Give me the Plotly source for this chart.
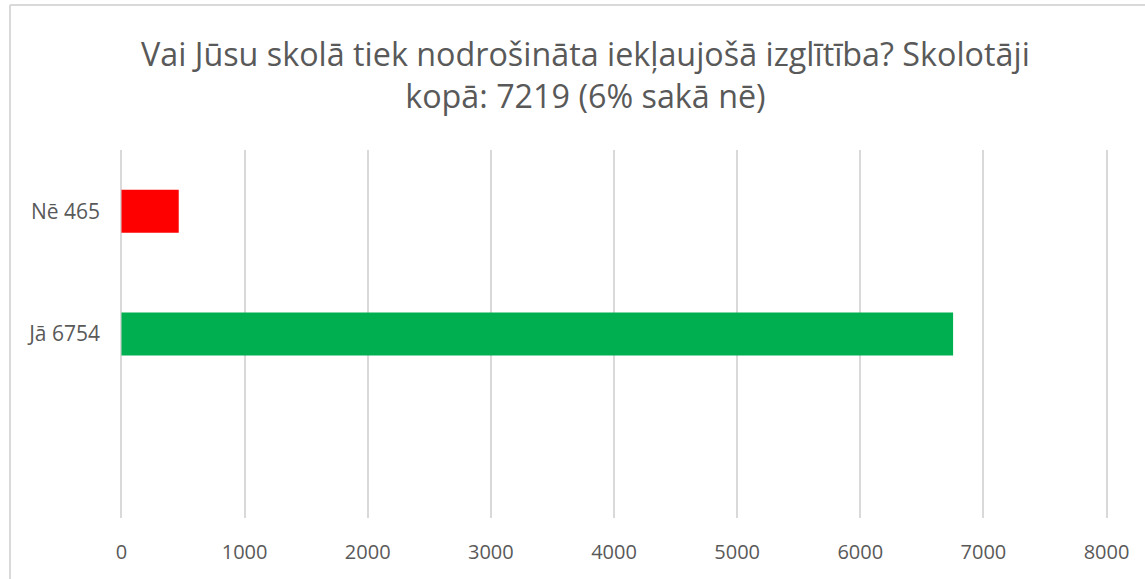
import plotly.graph_objects as go

categories = ["Jā 6754", "Nē 465"]
values = [6754, 465]
colors = ["#00B050", "#FF0000"]
axis_categories = [" ", "Jā 6754", "Nē 465"]
x_ticks = [0, 1000, 2000, 3000, 4000, 5000, 6000, 7000, 8000]
title_text = "Vai Jūsu skolā tiek nodrošināta iekļaujošā izglītība? Skolotāji<br>kopā: 7219 (6% sakā nē)"

W, H = 1145, 579
L, R, T, B = 120, 37, 150, 61
pw, ph = W - L - R, H - T - B

font_family = "Open Sans, Liberation Sans, sans-serif"

fig = go.Figure(go.Bar(
    x=values, y=categories, orientation="h",
    marker=dict(color=colors, line=dict(width=0)),
    width=0.35, hoverinfo="x+y",
))

# chart-area frame lines (top and left, as in the reference crop)
bx = (10 - L) / pw
ty = (H - B - 5) / ph
fig.add_shape(type="line", xref="paper", yref="paper", x0=bx, x1=(W - L) / pw, y0=ty, y1=ty,
              line=dict(color="#d9d9d9", width=2))
fig.add_shape(type="line", xref="paper", yref="paper", x0=bx, x1=bx, y0=-B / ph, y1=ty,
              line=dict(color="#d9d9d9", width=2))

# title as a centred annotation
fig.add_annotation(text=title_text, xref="paper", yref="paper",
                   x=(585 - L) / pw, y=(H - B - 73.5) / ph,
                   xanchor="center", yanchor="middle", showarrow=False, align="center",
                   font=dict(size=32.3, color="#595959", family=font_family))

fig.update_layout(
    width=W, height=H,
    margin=dict(l=L, r=R, t=T, b=B, pad=0),
    paper_bgcolor="white", plot_bgcolor="white",
    showlegend=False,
    font=dict(family=font_family, color="#595959"),
    xaxis=dict(range=[-12, 8012], tickvals=x_ticks, ticktext=[str(v) for v in x_ticks],
               showgrid=True, gridcolor="#d9d9d9", gridwidth=1.5, zeroline=False,
               showline=False, ticks="", tickfont=dict(size=20, color="#595959"),
               ticklabelstandoff=20, fixedrange=True),
    yaxis=dict(type="category", categoryorder="array", categoryarray=axis_categories,
               range=[-0.5, 2.5], showgrid=False, zeroline=False, showline=False, ticks="",
               tickfont=dict(size=21, color="#595959"), ticklabelstandoff=19, fixedrange=True),
)

fig.write_html("out.html", config={"displayModeBar": False},
               post_script="document.body.style.margin='0';")
